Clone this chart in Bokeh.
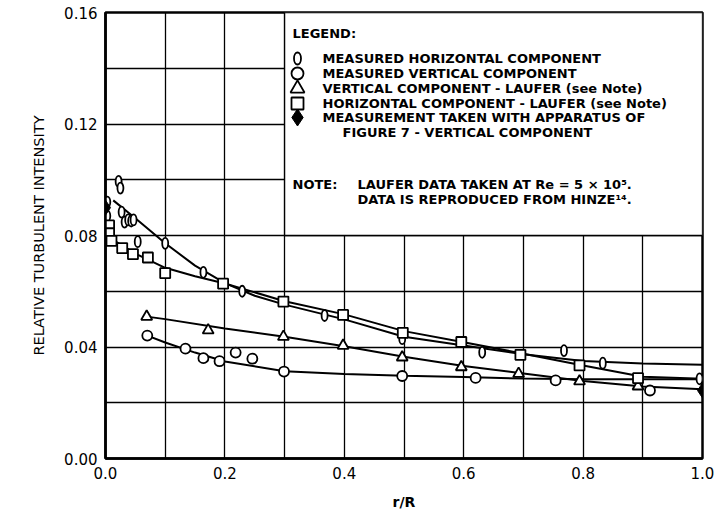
from bokeh.plotting import figure
from bokeh.models import Range1d, FixedTicker, NumeralTickFormatter, Label
from bokeh.embed import file_html
from bokeh.resources import INLINE

# ---------------- data ----------------
# measured horizontal component (narrow ellipse markers)
mh_x = [0.003, 0.003, 0.022, 0.025, 0.027, 0.032, 0.038, 0.043, 0.047, 0.054,
        0.100, 0.164, 0.229, 0.367, 0.497, 0.631, 0.768, 0.833, 0.995]
mh_y = [0.0920, 0.0870, 0.0994, 0.0970, 0.0884, 0.0848, 0.0856, 0.0852, 0.0856,
        0.0778, 0.0772, 0.0668, 0.0600, 0.0513, 0.0430, 0.0381, 0.0387, 0.0342,
        0.0286]
# measured vertical component (circles)
mv_x = [0.070, 0.134, 0.164, 0.191, 0.218, 0.246, 0.299, 0.497, 0.620, 0.754, 0.912]
mv_y = [0.0441, 0.0394, 0.0360, 0.0349, 0.0380, 0.0358, 0.0312, 0.0296, 0.0289,
        0.0280, 0.0244]
# Laufer vertical component (triangles)
lv_x = [0.069, 0.172, 0.298, 0.398, 0.497, 0.596, 0.692, 0.794, 0.892]
lv_y = [0.0509, 0.0460, 0.0437, 0.0405, 0.0363, 0.0328, 0.0304, 0.0277, 0.0259]
# Laufer horizontal component (squares)
lh_x = [0.006, 0.006, 0.010, 0.028, 0.046, 0.071, 0.100, 0.197, 0.298, 0.398,
        0.498, 0.596, 0.695, 0.794, 0.892]
lh_y = [0.0836, 0.0808, 0.0781, 0.0755, 0.0733, 0.0721, 0.0665, 0.0627, 0.0563,
        0.0515, 0.0451, 0.0418, 0.0372, 0.0334, 0.0288]
# apparatus of figure 7, vertical component (filled diamonds)
ap_x = [0.0, 1.0]
ap_y = [0.0900, 0.0244]

# faired curves drawn through the data
c_mh_x = [0.013, 0.05, 0.1, 0.15, 0.2, 0.25, 0.3, 0.4, 0.5, 0.6, 0.7, 0.8, 0.9, 1.0]
c_mh_y = [0.0926, 0.0862, 0.0772, 0.0692, 0.0629, 0.0584, 0.0552, 0.0499, 0.0437,
          0.0405, 0.0374, 0.0350, 0.0341, 0.0336]
c_lh_x = [0.005, 0.05, 0.1, 0.15, 0.2, 0.3, 0.4, 0.5, 0.6, 0.7, 0.8, 0.9, 1.0]
c_lh_y = [0.0794, 0.0735, 0.0684, 0.0654, 0.0628, 0.0564, 0.0517, 0.0457, 0.0417,
          0.0376, 0.0334, 0.0293, 0.0286]
c_lv_x = [0.069, 0.1, 0.2, 0.3, 0.4, 0.5, 0.6, 0.7, 0.8, 0.9, 1.0]
c_lv_y = [0.0509, 0.0500, 0.0466, 0.0437, 0.0403, 0.0365, 0.0332, 0.0305, 0.0278,
          0.0258, 0.0248]
c_mv_x = [0.07, 0.1, 0.15, 0.2, 0.3, 0.4, 0.5, 0.6, 0.7, 0.8, 0.9, 1.0]
c_mv_y = [0.0441, 0.0416, 0.0380, 0.0348, 0.0313, 0.0303, 0.0297, 0.0292, 0.0287,
          0.0284, 0.0284, 0.0284]

x_ticks = [0.0, 0.2, 0.4, 0.6, 0.8, 1.0]
y_ticks = [0.00, 0.04, 0.08, 0.12, 0.16]
x_grid = [0.1, 0.2, 0.3, 0.4, 0.5, 0.6, 0.7, 0.8, 0.9]
y_grid = [0.02, 0.04, 0.06, 0.08, 0.10, 0.12, 0.14]

legend_labels = [
    "MEASURED HORIZONTAL COMPONENT",
    "MEASURED VERTICAL COMPONENT",
    "VERTICAL COMPONENT - LAUFER (see Note)",
    "HORIZONTAL COMPONENT - LAUFER (see Note)",
    "MEASUREMENT TAKEN WITH APPARATUS OF",
]
legend_extra = "FIGURE 7 - VERTICAL COMPONENT"
note_lines = ["LAUFER DATA TAKEN AT Re = 5 \u00d7 10\u2075.",
              "DATA IS REPRODUCED FROM HINZE\u00b9\u2074."]

FONT = "DejaVu Sans"

# frame geometry (pixels) used to place annotation text / legend keys
W, H = 716, 514
BL, BR, BT, BB = 105, 14, 12, 56
FW, FH = W - BL - BR, H - BT - BB
X0, X1, Y0, Y1 = 0.0, 1.0, 0.0, 0.16


def dx(px):
    return X0 + (px - BL) / FW * (X1 - X0)


def dy(py):
    return Y0 + (BT + FH - py) / FH * (Y1 - Y0)


p = figure(width=W, height=H, output_backend="svg", toolbar_location=None,
           x_range=Range1d(X0, X1), y_range=Range1d(Y0, Y1),
           min_border_left=BL, min_border_right=BR, min_border_top=BT,
           min_border_bottom=BB, background_fill_color="white",
           border_fill_color="white")

p.outline_line_color = "black"
p.outline_line_width = 2.5

for ax in (p.xaxis, p.yaxis):
    ax.axis_line_width = 2.5
    ax.axis_line_color = "black"
    ax.major_tick_out = 0
    ax.major_tick_in = 0
    ax.minor_tick_out = 0
    ax.minor_tick_in = 0
    ax.major_label_text_font = FONT
    ax.major_label_text_font_size = "15px"
    ax.major_label_text_color = "black"
    ax.axis_label_text_font = FONT
    ax.axis_label_text_font_style = "normal"
    ax.axis_label_text_color = "black"

p.xaxis.ticker = FixedTicker(ticks=x_ticks)
p.yaxis.ticker = FixedTicker(ticks=y_ticks)
p.xaxis.formatter = NumeralTickFormatter(format="0.0")
p.yaxis.formatter = NumeralTickFormatter(format="0.00")
p.xaxis.major_label_standoff = 8
p.yaxis.major_label_standoff = 8
p.xaxis.axis_label = "r/R"
p.xaxis.axis_label_text_font_size = "14px"
p.xaxis.axis_label_text_font_style = "bold"
p.xaxis.axis_label_standoff = 12
p.yaxis.axis_label = "RELATIVE TURBULENT INTENSITY"
p.yaxis.axis_label_text_font_size = "14.5px"
p.yaxis.axis_label_standoff = 14

p.xgrid.ticker = FixedTicker(ticks=x_grid)
p.ygrid.ticker = FixedTicker(ticks=y_grid)
for g in (p.xgrid, p.ygrid):
    g.grid_line_color = "black"
    g.grid_line_width = 1.3
    g.grid_line_alpha = 1.0

# legend panel (blanks grid in upper-right region)
p.quad(left=[0.3], right=[1.0], bottom=[0.08], top=[0.16], fill_color="white",
       line_color="black", line_width=1.3)

# faired curves
for cx, cy in ((c_mh_x, c_mh_y), (c_lh_x, c_lh_y), (c_lv_x, c_lv_y), (c_mv_x, c_mv_y)):
    p.line(cx, cy, line_color="black", line_width=2)

mk = dict(fill_color="white", line_color="black", line_width=1.8)
p.ellipse(x=mh_x, y=mh_y, width=6, height=11, width_units="screen",
          height_units="screen", **mk)
p.scatter(mv_x, mv_y, marker="circle", size=10, **mk)
p.scatter(lv_x, lv_y, marker="triangle", size=11, **mk)
p.scatter(lh_x, lh_y, marker="square", size=10, **mk)
p.scatter(ap_x, ap_y, marker="diamond", size=15, fill_color="black",
          line_color="black", line_width=1)

# ---------------- legend (keys + text) ----------------
txt = dict(text_font=FONT, text_font_style="bold", text_font_size="13px",
           text_color="black", text_baseline="middle")
KEY_X, TXT_X = 297, 322
ROWS = [58, 73, 88, 103, 117]
p.add_layout(Label(x=dx(292), y=dy(33), text="LEGEND:", **txt))
for lab, row in zip(legend_labels, ROWS):
    p.add_layout(Label(x=dx(TXT_X), y=dy(row), text=lab, **txt))
p.add_layout(Label(x=dx(342), y=dy(132), text=legend_extra, **txt))

kx = dx(KEY_X)
p.ellipse(x=[kx], y=[dy(ROWS[0])], width=7, height=12, width_units="screen",
          height_units="screen", **mk)
p.scatter([kx], [dy(ROWS[1])], marker="circle", size=12, **mk)
p.scatter([kx], [dy(ROWS[2])], marker="triangle", size=14, **mk)
p.scatter([kx], [dy(ROWS[3])], marker="square", size=12, **mk)
p.scatter([kx], [dy(ROWS[4])], marker="diamond", size=17, fill_color="black",
          line_color="black", line_width=1)

# ---------------- note ----------------
p.add_layout(Label(x=dx(292), y=dy(184), text="NOTE:", **txt))
p.add_layout(Label(x=dx(357), y=dy(184), text=note_lines[0], **txt))
p.add_layout(Label(x=dx(357), y=dy(199), text=note_lines[1], **txt))

open("out.html", "w").write(file_html(p, INLINE))
